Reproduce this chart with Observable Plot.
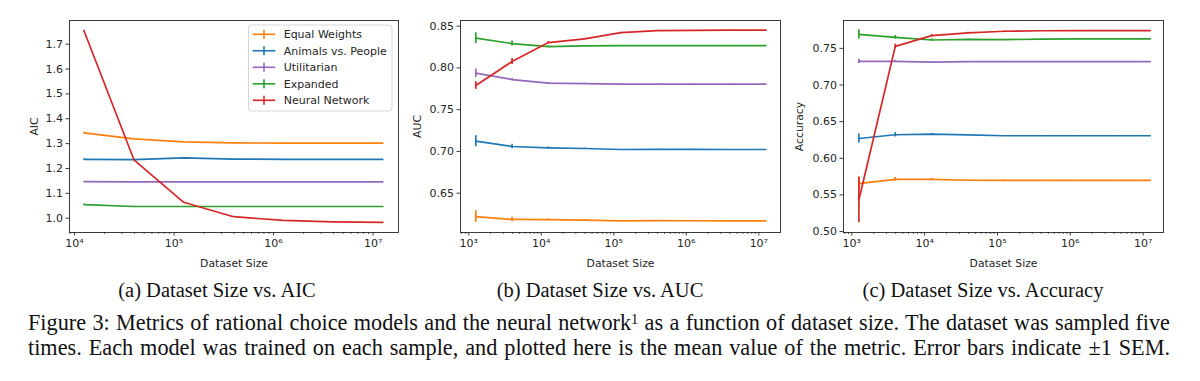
<!DOCTYPE html>
<html><head><meta charset="utf-8">
<script src="https://cdn.jsdelivr.net/npm/d3@7"></script>
<script src="https://cdn.jsdelivr.net/npm/@observablehq/plot@0.6"></script>
<style>
body{margin:0;background:#fff;}
#wrap{position:relative;width:1200px;height:381px;overflow:hidden;background:#fff;}
.panel{position:absolute;top:0;}
.panel text{font-size:11px;}
.panel [aria-label$="axis label"] text{font-size:10.8px;}
.sub{position:absolute;top:279.5px;font-family:"Liberation Serif","Times New Roman",serif;font-size:20.5px;line-height:20px;white-space:nowrap;transform:translateX(-50%);color:#111;}
.cap{position:absolute;left:28px;width:1142px;font-family:"Liberation Serif","Times New Roman",serif;font-size:21px;line-height:20px;text-align:justify;text-align-last:justify;color:#111;white-space:normal;}
.cap sup{font-size:0.65em;line-height:0;vertical-align:0.45em;}
.meas{position:absolute;visibility:hidden;white-space:nowrap;font-family:"Liberation Serif","Times New Roman",serif;font-size:20px;}
</style></head>
<body><div id="wrap"></div>
<script>
const seriesNames = ["Equal Weights","Animals vs. People","Utilitarian","Expanded","Neural Network"];
const seriesColors = ["#ff7f0e","#1f77b4","#9467bd","#2ca02c","#d62728"];

const sizesAIC = [12500, 39528, 125000, 395285, 1250000, 3952847, 12500000];
const sizesAUC = [1250, 3953, 12500, 39528, 125000, 395285, 1250000, 3952847, 12500000];
const sizesACC = [1250, 3953, 12500, 39528, 125000, 395285, 1250000, 3952847, 12500000];

const aicMean = [
  [1.343, 1.319, 1.307, 1.303, 1.302, 1.302, 1.302],
  [1.237, 1.236, 1.243, 1.238, 1.237, 1.237, 1.237],
  [1.147, 1.146, 1.146, 1.146, 1.146, 1.146, 1.146],
  [1.055, 1.047, 1.047, 1.047, 1.047, 1.047, 1.047],
  [1.752, 1.235, 1.064, 1.006, 0.991, 0.985, 0.983]
];
const aicSem = [
  [0.003, 0.001, 0.001, 0, 0, 0, 0],
  [0.002, 0.001, 0.001, 0, 0, 0, 0],
  [0.001, 0.001, 0, 0, 0, 0, 0],
  [0.002, 0.001, 0, 0, 0, 0, 0],
  [0.004, 0.002, 0.001, 0.001, 0, 0, 0]
];

const aucMean = [
  [0.6220, 0.6185, 0.6183, 0.6178, 0.6169, 0.6171, 0.6170, 0.6169, 0.6169],
  [0.7123, 0.7059, 0.7043, 0.7035, 0.7023, 0.7025, 0.7024, 0.7023, 0.7023],
  [0.7937, 0.7861, 0.7817, 0.7813, 0.7805, 0.7806, 0.7806, 0.7805, 0.7805],
  [0.8356, 0.8292, 0.8256, 0.8264, 0.8266, 0.8267, 0.8268, 0.8268, 0.8268],
  [0.7789, 0.8077, 0.8304, 0.8348, 0.8423, 0.8447, 0.8450, 0.8452, 0.8452]
];
const aucSem = [
  [0.0070, 0.0026, 0.0010, 0.0005, 0.0003, 0.0002, 0.0001, 0.0001, 0.0001],
  [0.0066, 0.0028, 0.0010, 0.0005, 0.0003, 0.0002, 0.0001, 0.0001, 0.0001],
  [0.0050, 0.0015, 0.0008, 0.0004, 0.0002, 0.0001, 0.0001, 0.0001, 0.0001],
  [0.0064, 0.0030, 0.0010, 0.0005, 0.0003, 0.0002, 0.0001, 0.0001, 0.0001],
  [0.0046, 0.0036, 0.0012, 0.0006, 0.0003, 0.0002, 0.0001, 0.0001, 0.0001]
];

const accMean = [
  [0.5655, 0.5713, 0.5713, 0.5700, 0.5699, 0.5699, 0.5699, 0.5699, 0.5699],
  [0.6270, 0.6321, 0.6330, 0.6320, 0.6307, 0.6307, 0.6307, 0.6307, 0.6307],
  [0.7322, 0.7322, 0.7313, 0.7318, 0.7320, 0.7320, 0.7320, 0.7320, 0.7320],
  [0.7690, 0.7651, 0.7614, 0.7623, 0.7619, 0.7625, 0.7628, 0.7628, 0.7628],
  [0.5430, 0.7527, 0.7674, 0.7710, 0.7733, 0.7740, 0.7742, 0.7742, 0.7742]
];
const accSem = [
  [0.0090, 0.0025, 0.0015, 0.0005, 0.0003, 0.0002, 0.0001, 0.0001, 0.0001],
  [0.0060, 0.0030, 0.0010, 0.0005, 0.0003, 0.0002, 0.0001, 0.0001, 0.0001],
  [0.0030, 0.0015, 0.0005, 0.0003, 0.0002, 0.0001, 0.0001, 0.0001, 0.0001],
  [0.0064, 0.0025, 0.0015, 0.0005, 0.0003, 0.0002, 0.0001, 0.0001, 0.0001],
  [0.0310, 0.0030, 0.0015, 0.0010, 0.0005, 0.0003, 0.0002, 0.0001, 0.0001]
];

const yTicksAIC = [1.0, 1.1, 1.2, 1.3, 1.4, 1.5, 1.6, 1.7];
const yTicksAUC = [0.65, 0.70, 0.75, 0.80, 0.85];
const yTicksACC = [0.50, 0.55, 0.60, 0.65, 0.70, 0.75];
const xMajorAIC = [1e4, 1e5, 1e6, 1e7];
const xMajorAUC = [1e3, 1e4, 1e5, 1e6, 1e7];
const subCaptions = ["(a) Dataset Size vs. AIC", "(b) Dataset Size vs. AUC", "(c) Dataset Size vs. Accuracy"];
const captionLine1 = "Figure 3: Metrics of rational choice models and the neural network<sup>1</sup> as a function of dataset size. The dataset was sampled five";
const captionLine2 = "times. Each model was trained on each sample, and plotted here is the mean value of the metric. Error bars indicate \u00b11 SEM.";

const supDigits = {"3":"\u00b3","4":"\u2074","5":"\u2075","6":"\u2076","7":"\u2077"};
const fmtPow = d => "10" + supDigits[String(Math.round(Math.log10(d)))];

function makeRows(sizes, means, sems) {
  const rows = [];
  seriesNames.forEach((s, i) => {
    sizes.forEach((x, j) => rows.push({series: s, size: x, mean: means[i][j], sem: sems[i][j]}));
  });
  return rows;
}

function minorTicks(domain) {
  const t = [];
  for (let e = 2; e <= 7; e++) for (let k = 2; k <= 9; k++) {
    const v = k * Math.pow(10, e);
    if (v >= domain[0] && v <= domain[1]) t.push(v);
  }
  return t;
}

function panel(cfg) {
  const rows = makeRows(cfg.sizes, cfg.means, cfg.sems);
  const svg = Plot.plot({
    width: 400, height: 272,
    marginTop: 20, marginBottom: 40, marginLeft: cfg.marginLeft, marginRight: cfg.marginRight,
    style: {fontFamily: "'DejaVu Sans', sans-serif", fontSize: "11px", color: "#262626", background: "transparent", overflow: "visible"},
    x: {type: "log", domain: cfg.xDomain},
    y: {domain: cfg.yDomain},
    color: {domain: seriesNames, range: seriesColors},
    marks: [
      Plot.line(rows, {x: "size", y: "mean", z: "series", stroke: "series", strokeWidth: 1.7}),
      Plot.ruleX(rows, {x: "size", y1: d => d.mean - d.sem, y2: d => d.mean + d.sem, stroke: "series", strokeWidth: 1.7}),
      Plot.frame({stroke: "#262626", strokeWidth: 0.9}),
      Plot.axisX({ticks: minorTicks(cfg.xDomain), tickSize: 2, tickFormat: () => "", label: null, strokeWidth: 0.7}),
      Plot.axisX({ticks: cfg.xMajor, tickSize: 3.5, tickPadding: 3, tickFormat: fmtPow, label: "Dataset Size", labelAnchor: "center", labelArrow: "none", labelOffset: 34, strokeWidth: 0.9}),
      Plot.axisY({ticks: cfg.yTicks, tickSize: 3.5, tickPadding: 3, tickFormat: cfg.yFormat, label: cfg.ylabel, labelAnchor: "center", labelArrow: "none", labelOffset: cfg.labelOffset, strokeWidth: 0.9})
    ]
  });
  svg.classList.add("panel");
  svg.style.left = cfg.left + "px";
  document.getElementById("wrap").appendChild(svg);
  return svg;
}

const svgA = panel({sizes: sizesAIC, means: aicMean, sems: aicSem, left: 0, marginLeft: 69, marginRight: 2,
  xDomain: [8900, 1.8e7], yDomain: [0.9425, 1.7953], yTicks: yTicksAIC, yFormat: d3.format(".1f"),
  xMajor: xMajorAIC, ylabel: "AIC", labelOffset: 39});
panel({sizes: sizesAUC, means: aucMean, sems: aucSem, left: 400, marginLeft: 60, marginRight: 20,
  xDomain: [769, 1.99e7], yDomain: [0.6029, 0.8568], yTicks: yTicksAUC, yFormat: d3.format(".2f"),
  xMajor: xMajorAUC, ylabel: "AUC", labelOffset: 47});
panel({sizes: sizesACC, means: accMean, sems: accSem, left: 780, marginLeft: 63, marginRight: 17,
  xDomain: [769, 1.905e7], yDomain: [0.4987, 0.7880], yTicks: yTicksACC, yFormat: d3.format(".2f"),
  xMajor: xMajorAUC, ylabel: "Accuracy", labelOffset: 48});

// legend in panel (a)
const lg = d3.select(svgA).append("g").attr("font-family", "'DejaVu Sans', sans-serif")
  .attr("text-anchor", "start");
lg.append("rect").attr("x", 248.5).attr("y", 25).attr("width", 143.5).attr("height", 86).attr("rx", 3)
  .attr("fill", "#fff").attr("fill-opacity", 0.85).attr("stroke", "#cccccc").attr("stroke-width", 0.8);
seriesNames.forEach((s, i) => {
  const cy = 34.3 + i * 16.5;
  lg.append("line").attr("x1", 252.7).attr("x2", 275.3).attr("y1", cy).attr("y2", cy).attr("stroke", seriesColors[i]).attr("stroke-width", 1.6);
  lg.append("line").attr("x1", 264).attr("x2", 264).attr("y1", cy - 4.5).attr("y2", cy + 4.5).attr("stroke", seriesColors[i]).attr("stroke-width", 1.6);
  lg.append("text").attr("x", 283.7).attr("y", cy).attr("dy", "0.35em").attr("text-anchor", "start")
    .style("font-size", "11px").attr("fill", "#262626").text(s);
});

// captions
const wrap = document.getElementById("wrap");
[217, 600, 983].forEach((cx, i) => {
  const d = document.createElement("div");
  d.className = "sub"; d.style.left = cx + "px"; d.textContent = subCaptions[i];
  wrap.appendChild(d);
});
// fit caption font size to the justified width
const m = document.createElement("span");
m.className = "meas"; m.innerHTML = captionLine1;
document.body.appendChild(m);
const natural = m.getBoundingClientRect().width;
m.remove();
const capSize = Math.min(23, 20 * 1128 / natural);
[[captionLine1, 331], [captionLine2, 356]].forEach(([html, baseline]) => {
  const d = document.createElement("div");
  d.className = "cap";
  d.style.fontSize = capSize + "px";
  d.style.top = (baseline - 10 - 0.3375 * capSize) + "px";
  d.innerHTML = html;
  wrap.appendChild(d);
});
</script>
</body></html>
